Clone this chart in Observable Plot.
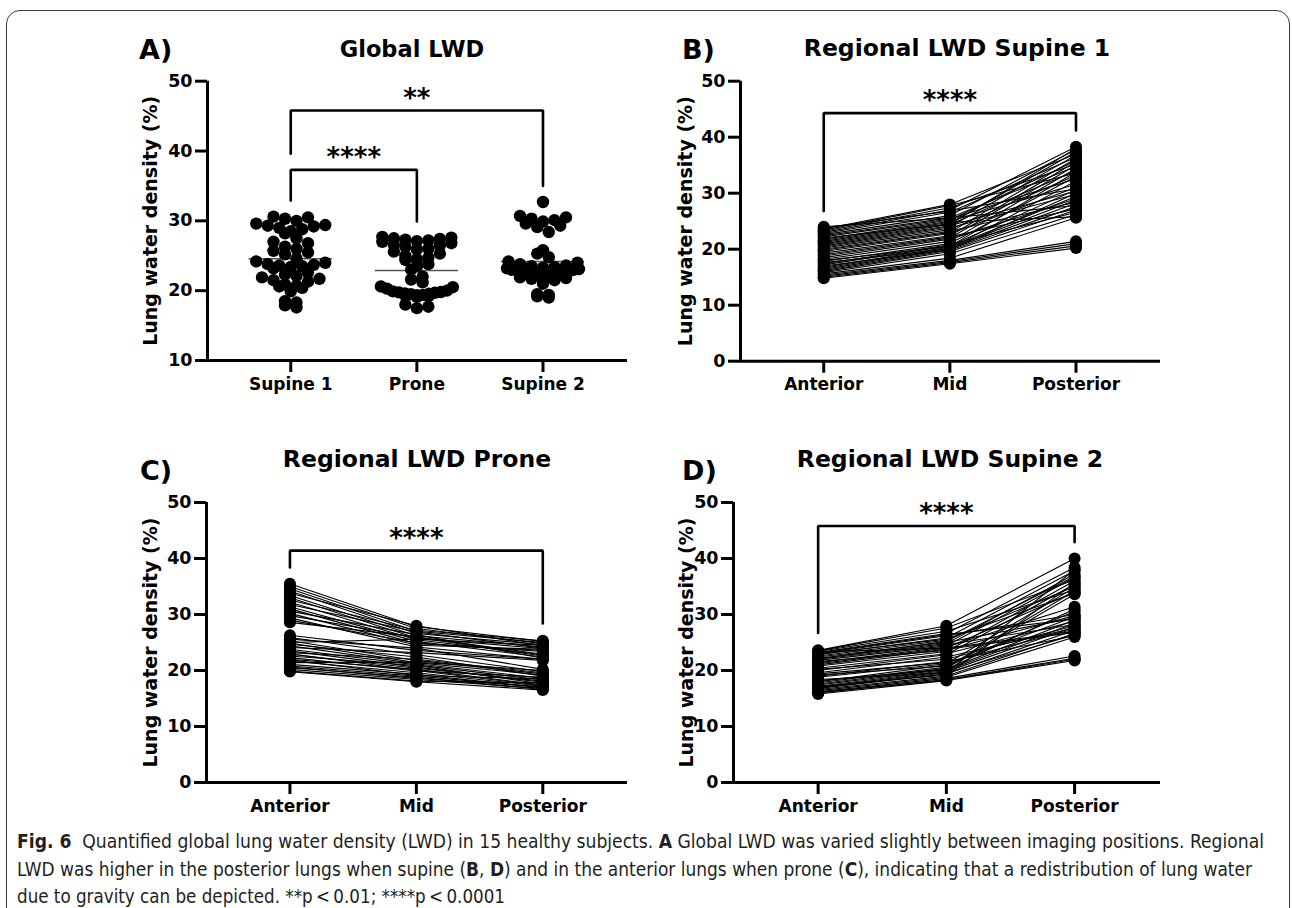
<!DOCTYPE html>
<html><head><meta charset="utf-8">
<script src="https://cdn.jsdelivr.net/npm/d3@7"></script>
<script src="https://cdn.jsdelivr.net/npm/@observablehq/plot@0.6"></script>
<style>
html,body{margin:0;padding:0;background:#fff;}
#fig{position:relative;width:1292px;height:908px;overflow:hidden;background:#fff;}
.frame{position:absolute;left:6px;top:10px;width:1284px;height:930px;border:1.5px solid #3a3a3a;border-radius:14px;box-sizing:border-box;}
.t{position:absolute;white-space:nowrap;font-family:"DejaVu Sans",sans-serif;font-weight:bold;line-height:1;color:#000;}
.panel{position:absolute;}
.cap{position:absolute;left:17px;white-space:nowrap;font-family:"Liberation Sans Narrow","DejaVu Sans Condensed","Open Sans",sans-serif;font-size:19px;line-height:1;color:#231f20;transform-origin:0 0;}
.cap b{font-weight:bold;}
</style></head><body><div id="fig"><div class="frame"></div></div>
<script>
// ---------------- DATA ----------------
const globalGroups = ["Supine 1", "Prone", "Supine 2"];
const globalSupine1 = [17.6,17.9,18.3,18.5,20.4,20.6,20.7,20.9,21.3,21.5,21.7,21.9,22.1,22.3,23.2,23.4,23.5,23.6,23.7,23.8,24.0,24.2,25.2,25.5,25.7,26.0,26.3,27.0,27.5,28.2,28.5,28.8,29.0,29.2,29.3,29.4,29.6,30.0,30.3,30.5,30.6,22.6,24.6,26.8,19.9];
const globalProne = [17.5,17.7,18.0,19.1,19.2,19.3,19.4,19.5,19.6,19.7,19.8,19.9,20.0,19.35,19.55,19.75,20.3,20.6,21.2,21.6,22.0,23.0,24.4,24.7,25.0,25.3,25.6,24.5,26.0,26.3,26.6,26.8,27.0,27.1,27.2,27.3,27.4,27.5,27.6,27.7,25.9,26.5,23.5,23.8,20.5];
const globalSupine2 = [19.0,19.2,19.4,19.5,21.0,21.5,21.7,21.8,21.9,22.0,22.1,22.2,22.3,22.4,22.5,22.6,22.7,22.8,22.9,23.0,23.1,23.2,23.3,23.4,23.5,23.6,23.8,24.0,24.2,24.8,25.3,25.8,22.0,22.4,23.0,29.3,29.6,29.9,30.1,30.3,30.5,30.7,32.7,28.4,29.1];

const regions = ["Anterior", "Mid", "Posterior"];
const supine1Anterior = [14.8,15.0,15.2,15.4,15.6,15.8,16.0,16.2,16.4,16.6,16.8,17.0,17.2,17.4,17.6,17.8,18.0,18.2,18.5,18.8,19.0,19.3,19.6,19.8,20.0,20.2,20.4,20.6,20.8,21.0,21.2,21.4,21.6,21.8,22.0,22.2,22.4,22.6,22.8,23.0,23.2,23.4,23.6,23.8,24.0];
const supine1Mid = [17.4,17.6,17.8,18.0,18.4,19.2,19.6,19.8,20.0,20.2,20.4,19.9,20.6,20.8,20.1,21.0,20.5,21.4,21.8,22.0,22.2,22.4,22.8,23.0,23.2,23.5,23.8,24.0,24.2,24.4,24.6,24.8,25.0,25.2,24.5,25.4,25.6,26.0,26.6,27.0,27.4,27.8,28.0,26.8,25.6];
const supine1Posterior = [20.2,20.6,21.0,21.4,25.6,26.2,27.0,27.6,28.2,28.8,29.4,30.0,30.6,26.6,32.2,33.0,33.8,34.4,29.0,35.0,27.2,35.6,31.0,36.2,28.4,33.2,29.8,36.8,30.4,34.0,37.4,25.8,31.6,35.8,38.0,32.6,34.8,37.8,36.4,38.3,35.2,33.6,37.0,30.8,27.8];

const proneAnterior = [35.5,35.0,34.6,34.2,33.8,33.4,33.0,32.6,32.2,31.8,31.4,31.0,30.6,30.2,29.8,29.4,29.0,28.6,26.3,25.9,25.6,25.3,25.0,24.7,24.4,24.1,23.8,23.5,23.2,22.9,22.6,22.3,22.0,21.7,21.4,21.1,20.8,20.5,20.2,19.9,19.8,21.9,23.0,24.9,20.6];
const proneMid = [27.8,27.5,27.0,26.6,28.0,26.2,25.8,27.2,25.5,26.9,25.2,24.8,26.4,24.5,25.9,24.2,24.9,26.0,23.6,22.8,24.0,21.8,25.6,22.4,21.2,23.2,21.0,20.6,22.0,20.4,20.9,19.9,20.2,19.6,21.5,19.3,19.0,18.8,18.4,18.1,18.0,19.1,20.0,21.4,18.6];
const pronePosterior = [25.2,24.8,25.0,24.6,24.4,24.2,23.9,25.3,22.8,24.0,22.4,23.6,22.2,23.8,22.6,22.0,23.4,22.9,22.0,19.8,20.2,19.4,24.5,19.0,18.6,21.8,18.3,17.9,19.6,18.1,17.6,18.8,17.4,17.2,20.0,16.9,17.0,16.6,16.8,17.8,16.5,18.5,17.3,19.2,17.1];

const supine2Anterior = [15.8,16.0,16.2,16.4,16.6,16.8,17.0,17.2,17.4,17.6,17.8,18.0,18.4,18.8,19.2,19.6,20.0,20.4,20.8,21.0,21.4,21.8,22.0,22.2,22.4,22.6,22.8,23.0,23.2,23.4,23.6,23.5,23.3,22.9,21.6,20.2,19.0,18.2,17.1,16.1,21.2,22.1,23.1,19.4,16.9];
const supine2Mid = [18.2,18.4,18.6,18.8,19.0,19.4,19.8,20.0,20.2,20.4,20.6,21.0,19.6,21.2,20.8,22.4,22.8,23.0,23.4,23.8,24.2,24.4,24.6,24.8,25.0,25.4,25.8,26.2,26.6,27.0,28.0,27.6,24.0,25.6,23.6,22.0,21.6,20.2,19.2,18.3,24.0,25.2,26.4,21.4,19.6];
const supine2Posterior = [21.8,22.2,22.6,26.0,26.6,27.2,27.8,28.4,29.0,33.6,34.2,29.6,26.4,34.8,30.6,27.6,35.4,28.8,36.0,26.8,31.4,36.6,28.2,37.2,29.4,35.0,37.8,30.0,38.4,34.4,40.0,36.2,27.0,33.8,29.8,28.0,26.2,31.0,35.6,22.0,34.0,36.8,29.2,27.4,38.0];

const yTicksGlobal = [10, 20, 30, 40, 50];
const yTicksRegional = [0, 10, 20, 30, 40, 50];
const yAxisLabel = "Lung water density (%)";

// significance brackets: from/to category index, bracket height, end heights, label
const bracketsA = [
  {from: 0, to: 1, top: 37.3, endFrom: 32.9, endTo: 29.9, label: "****"},
  {from: 0, to: 2, top: 45.8, endFrom: 39.6, endTo: 35.0, label: "**"}
];
const bracketsB = [{from: 0, to: 2, top: 44.3, endFrom: 26.8, endTo: 41.2, label: "****"}];
const bracketsC = [{from: 0, to: 2, top: 41.4, endFrom: 38.4, endTo: 28.4, label: "****"}];
const bracketsD = [{from: 0, to: 2, top: 45.8, endFrom: 26.7, endTo: 42.9, label: "****"}];

// ---------------- LAYOUT ----------------
const xDomain = [-0.66, 2.67];
const fig = document.getElementById("fig");

function addText(txt, x, baseline, size, anchor) {
  const d = document.createElement("div");
  d.className = "t";
  d.textContent = txt;
  d.style.fontSize = size + "px";
  d.style.top = (baseline - 0.846 * size) + "px";
  fig.appendChild(d);
  const w = d.getBoundingClientRect().width;
  d.style.left = (anchor === "middle" ? x - w / 2 : x) + "px";
}

function bracketMarks(brackets) {
  const pts = [];
  brackets.forEach((b, k) => {
    pts.push({id: k, x: b.from, y: b.endFrom}, {id: k, x: b.from, y: b.top},
             {id: k, x: b.to, y: b.top}, {id: k, x: b.to, y: b.endTo});
  });
  return [
    Plot.line(pts, {x: "x", y: "y", z: "id", stroke: "black", strokeWidth: 2.6, strokeLinejoin: "miter"}),
    Plot.text(brackets, {x: b => (b.from + b.to) / 2, y: "top", text: "label", dy: -12, fontSize: 26, fontWeight: "bold"})
  ];
}

function makePanel(cfg) {
  const plot = Plot.plot({
    width: cfg.width, height: cfg.height,
    marginLeft: cfg.ml, marginRight: cfg.mr, marginTop: cfg.mt, marginBottom: cfg.mb,
    style: {background: "transparent", fontFamily: "DejaVu Sans", fontWeight: "bold", fontSize: "17px", color: "#000", overflow: "visible"},
    x: {type: "linear", domain: xDomain},
    y: {type: "linear", domain: cfg.yDomain},
    marks: [
      ...cfg.marks,
      Plot.axisY({ticks: cfg.yTicks, tickSize: 12, tickPadding: 3, strokeWidth: 3, label: null, fontSize: 17.5}),
      Plot.axisX({ticks: [0, 1, 2], tickFormat: i => cfg.xLabels[i], tickSize: 12, tickPadding: 5, strokeWidth: 3, label: null, fontSize: 17}),
      Plot.ruleX([xDomain[0]], {strokeWidth: 3}),
      Plot.ruleY([cfg.yDomain[0]], {strokeWidth: 3}),
      Plot.text([yAxisLabel], {text: d => d, frameAnchor: "left", textAnchor: "middle", lineAnchor: "middle", dx: cfg.labelDx, rotate: -90, fontSize: 19, fontWeight: "bold"}),
      ...bracketMarks(cfg.brackets)
    ]
  });
  const wrap = document.createElement("div");
  wrap.className = "panel";
  wrap.style.left = cfg.left + "px";
  wrap.style.top = cfg.top + "px";
  wrap.appendChild(plot);
  fig.appendChild(wrap);
}

// Prism-like scatter-dot layout: values binned into rows, each row spread
// symmetrically around the category centre (width-limited, overlapping if crowded)
function rowSwarm(values, binPx, spacingPx, maxHalfPx, pxPerY, pxPerX) {
  const out = new Array(values.length);
  const items = values.map((v, i) => ({v, i}));
  const bins = d3.group(items, d => Math.floor(d.v * pxPerY / binPx));
  for (const [, arr] of bins) {
    arr.sort((a, b) => a.v - b.v);
    const n = arr.length;
    const s = n > 1 ? Math.min(spacingPx, 2 * maxHalfPx / (n - 1)) : 0;
    const slots = d3.range(n).map(k => (k - (n - 1) / 2) * s);
    const order = slots.slice().sort((a, b) => Math.abs(a) - Math.abs(b) || b - a);
    arr.forEach((d, k) => { out[d.i] = order[k] / pxPerX; });
  }
  return out;
}

// ---- Panel A ----
{
  const frameW = 420, frameH = 279.3;
  const pxPerX = frameW / (xDomain[1] - xDomain[0]);
  const pxPerY = frameH / (50 - 10);
  const rows = [];
  const means = [];
  [globalSupine1, globalProne, globalSupine2].forEach((vals, gi) => {
    const off = rowSwarm(vals, 9, 11.5, 36, pxPerY, pxPerX);
    vals.forEach((v, k) => rows.push({g: gi, value: v, pos: gi + off[k]}));
    means.push({g: gi, mean: d3.mean(vals)});
  });
  makePanel({
    left: 100, top: 20, width: 560, height: 400, ml: 107, mr: 33, mt: 60.7, mb: 60,
    yDomain: [10, 50], yTicks: yTicksGlobal, xLabels: globalGroups, labelDx: -57,
    brackets: bracketsA,
    marks: [
      Plot.ruleY(means, {y: "mean", x1: d => d.g - 0.33, x2: d => d.g + 0.33, stroke: "#555", strokeWidth: 1.6}),
      Plot.dot(rows, {x: "pos", y: "value", r: 6.2, fill: "black", stroke: "none"})
    ]
  });
}

function regionalRows(a, m, p) {
  const rows = [];
  a.forEach((_, i) => {
    rows.push({id: i, pos: 0, value: a[i]}, {id: i, pos: 1, value: m[i]}, {id: i, pos: 2, value: p[i]});
  });
  return rows;
}
function regionalMarks(rows) {
  return [
    Plot.line(rows, {x: "pos", y: "value", z: "id", stroke: "black", strokeWidth: 1.1}),
    Plot.dot(rows, {x: "pos", y: "value", r: 6, fill: "black", stroke: "none"})
  ];
}

// ---- Panel B ----
makePanel({
  left: 640, top: 20, width: 560, height: 400, ml: 100, mr: 40, mt: 60.7, mb: 59.3,
  yDomain: [0, 50], yTicks: yTicksRegional, xLabels: regions, labelDx: -55,
  brackets: bracketsB,
  marks: regionalMarks(regionalRows(supine1Anterior, supine1Mid, supine1Posterior))
});
// ---- Panel C ----
makePanel({
  left: 100, top: 440, width: 560, height: 400, ml: 106, mr: 33, mt: 62, mb: 58,
  yDomain: [0, 50], yTicks: yTicksRegional, xLabels: regions, labelDx: -56,
  brackets: bracketsC,
  marks: regionalMarks(regionalRows(proneAnterior, proneMid, pronePosterior))
});
// ---- Panel D ----
makePanel({
  left: 640, top: 440, width: 560, height: 400, ml: 93, mr: 40, mt: 62, mb: 58,
  yDomain: [0, 50], yTicks: yTicksRegional, xLabels: regions, labelDx: -47,
  brackets: bracketsD,
  marks: regionalMarks(regionalRows(supine2Anterior, supine2Mid, supine2Posterior))
});

// ---- Titles and panel letters ----
addText("A)", 139, 59, 27, "start");
addText("Global LWD", 412, 57, 22.5, "middle");
addText("B)", 682, 59, 27, "start");
addText("Regional LWD Supine 1", 957, 57, 23.5, "middle");
addText("C)", 140, 480, 27, "start");
addText("Regional LWD Prone", 417, 468, 23.5, "middle");
addText("D)", 682, 480, 27, "start");
addText("Regional LWD Supine 2", 950, 468, 23.5, "middle");

// ---- Caption ----
const captionLines = [
  {html: "<b>Fig. 6</b>&nbsp; Quantified global lung water density (LWD) in 15 healthy subjects. <b>A</b> Global LWD was varied slightly between imaging positions. Regional", baseline: 847, width: 1247},
  {html: "LWD was higher in the posterior lungs when supine (<b>B</b>, <b>D</b>) and in the anterior lungs when prone (<b>C</b>), indicating that a redistribution of lung water", baseline: 875, width: 1235},
  {html: "due to gravity can be depicted. **p&thinsp;&lt;&thinsp;0.01; ****p&thinsp;&lt;&thinsp;0.0001", baseline: 902, width: 488}
];
captionLines.forEach(l => {
  const d = document.createElement("div");
  d.className = "cap";
  d.innerHTML = l.html;
  d.style.top = (l.baseline - 15) + "px";
  fig.appendChild(d);
  const w = d.getBoundingClientRect().width;
  d.style.transform = "scaleX(" + (l.width / w) + ")";
});
</script></body></html>
